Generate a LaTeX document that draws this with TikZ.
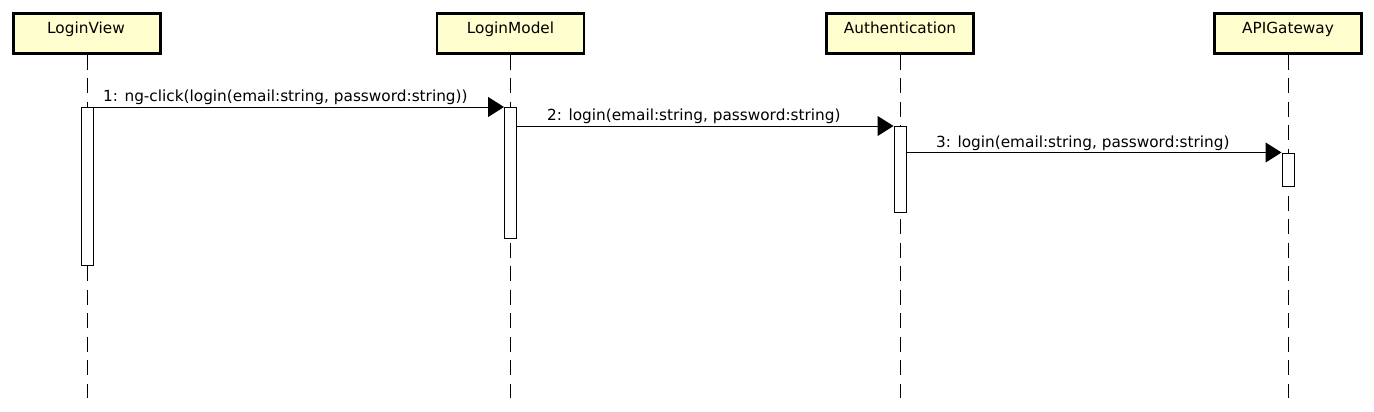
\documentclass[tikz,border=0pt]{standalone}
\usepackage{fontspec}
\setmainfont{DejaVu Sans}
\usetikzlibrary{arrows.meta}
\definecolor{partfill}{HTML}{FEFECE}
\tikzset{
  x=1pt,y=-1pt,
  part/.style={draw=black,line width=2.6pt,fill=partfill,minimum width=147pt,minimum height=40pt,inner sep=0pt},
  ptext/.style={anchor=base,inner sep=0pt,font=\fontsize{15.3}{17}\selectfont},
  life/.style={draw=black,line width=1pt,dash pattern=on 15pt off 8.5pt},
  act/.style={draw=black,line width=1pt,fill=white,inner sep=0pt,minimum width=12pt,anchor=north},
  msg/.style={draw=black,line width=1pt,-{Triangle[length=16pt,width=20pt]}},
  lbl/.style={font=\fontsize{15.3}{17}\selectfont,anchor=base west,inner sep=0pt},
}
\begin{document}
\begin{tikzpicture}
\useasboundingbox (0,0) rectangle (1374,412);
\fill[white] (0,0) rectangle (1374,412);
% participants
\node[part] (pLV) at (87,33.3) {};
\node[part] (pLM) at (510.5,33.3) {};
\node[part] (pAU) at (900,33.3) {};
\node[part] (pAP) at (1288,33.3) {};
\node[ptext] (tLV) at (86,34) {LoginView};
\node[ptext] (tLM) at (510.5,34) {LoginModel};
\node[ptext] (tAU) at (900,34) {Authentication};
\node[ptext] (tAP) at (1288,34) {APIGateway};
% lifeline ends
\coordinate (eLV) at (87,398);
\coordinate (eLM) at (510.5,398);
\coordinate (eAU) at (900,398);
\coordinate (eAP) at (1288,398);
\draw[life] (pLV.south) -- (eLV);
\draw[life] (pLM.south) -- (eLM);
\draw[life] (pAU.south) -- (eAU);
\draw[life] (pAP.south) -- (eAP);
% activations
\node[act,minimum height=158pt] (aLV) at (87,107) {};
\node[act,minimum height=131pt] (aLM) at (510.5,107) {};
\node[act,minimum height=86pt] (aAU) at (900,126) {};
\node[act,minimum height=33pt] (aAP) at (1288,152.5) {};
% messages
\draw[msg] (aLV.north east) -- (aLM.north west);
\node[lbl] (m1) at (103,102) {1: ng-click(login(email:string, password:string))};
\coordinate (s2) at (aLM.east |- 0,126);
\draw[msg] (s2) -- (aAU.north west);
\node[lbl] (m2) at (547,121) {2: login(email:string, password:string)};
\coordinate (s3) at (aAU.east |- 0,152.5);
\draw[msg] (s3) -- (aAP.north west);
\node[lbl] (m3) at (936,147.5) {3: login(email:string, password:string)};
\end{tikzpicture}
\end{document}
